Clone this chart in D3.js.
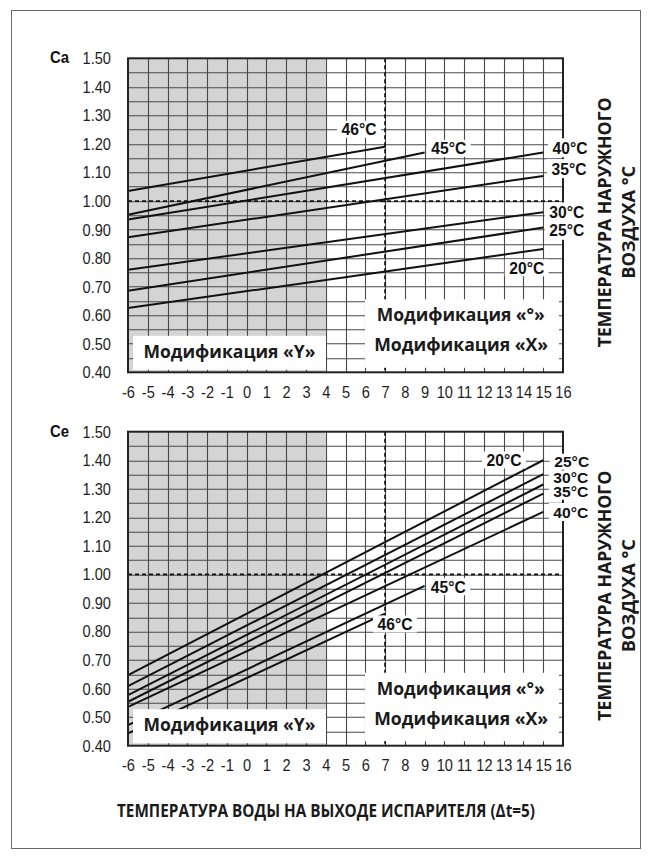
<!DOCTYPE html>
<html>
<head>
<meta charset="utf-8">
<script src="https://cdn.jsdelivr.net/npm/d3@7/dist/d3.min.js"></script>
<style>
  body { margin: 0; background: #fff; }
  svg { display: block; }
</style>
</head>
<body>
<svg id="chart" width="650" height="856"></svg>
<script>
// Outlet water temperature axis and coefficient axis
const waterTemps = d3.range(-6, 17);
const coefTicks = [1.5, 1.4, 1.3, 1.2, 1.1, 1.0, 0.9, 0.8, 0.7, 0.6, 0.5, 0.4];

// Ca: cooling capacity correction, one straight line per outdoor air temperature
const caTemps   = [46, 45, 40, 35, 30, 25, 20];
const caXEnd    = [7, 9, 15, 15, 15, 15, 15];
const caAtStart = [1.035, 0.952, 0.935, 0.873, 0.759, 0.686, 0.625];
const caAtEnd   = [1.19, 1.17, 1.17, 1.088, 0.961, 0.907, 0.832];

// Ce: power input correction
const ceTemps   = [20, 25, 30, 35, 40, 45, 46];
const ceXEnd    = [15, 15, 15, 15, 15, 9, 7];
const ceAtStart = [0.647, 0.609, 0.577, 0.554, 0.536, 0.472, 0.443];
const ceAtEnd   = [1.40, 1.351, 1.315, 1.283, 1.219, 0.96, 0.863];

const xStart = -6;
const shadedTo = 4;     // "Y" version range ends here
const refX = 7;         // nominal water temperature
const refY = 1.0;       // nominal coefficient

const svg = d3.select("#chart");
const SANS = "'Liberation Sans', Arial, sans-serif";
const GEO = "'Open Sans', 'DejaVu Sans', sans-serif";
const NARROW_X = 0.86;  // horizontal squeeze for the condensed lettering

// outer frame
svg.append("rect")
  .attr("x", 11.5).attr("y", 10.5).attr("width", 629).attr("height", 838)
  .attr("fill", "none").attr("stroke", "#6a6a6a").attr("stroke-width", 1);

const plotLeft = 128, plotWidth = 435, plotHeight = 314;

const x = d3.scaleLinear().domain([-6, 16]).range([0, plotWidth]);
const y = d3.scaleLinear().domain([0.4, 1.5]).range([plotHeight, 0]);

function panel(top, name, temps, xEnd, atStart, atEnd, labelPos) {
  const g = svg.append("g").attr("transform", `translate(${plotLeft},${top})`);

  // background: shaded "Y" range
  g.append("rect").attr("x", 0).attr("y", 0)
    .attr("width", plotWidth).attr("height", plotHeight).attr("fill", "#fff");
  g.append("rect").attr("x", x(-6)).attr("y", 0)
    .attr("width", x(shadedTo) - x(-6)).attr("height", plotHeight).attr("fill", "#d4d4d4");

  // grid
  const grid = g.append("g").attr("stroke", "#484848").attr("stroke-width", 1.1);
  grid.selectAll("line.v").data(waterTemps.slice(1, -1)).join("line")
    .attr("class", "v")
    .attr("x1", d => Math.round(x(d)) + 0.5).attr("x2", d => Math.round(x(d)) + 0.5)
    .attr("y1", 0).attr("y2", plotHeight);
  grid.selectAll("line.h").data(d3.range(1, 22).map(i => 0.4 + i * 0.05)).join("line")
    .attr("class", "h")
    .attr("y1", d => Math.round(y(d)) + 0.5).attr("y2", d => Math.round(y(d)) + 0.5)
    .attr("x1", 0).attr("x2", plotWidth);

  // reference lines at 7 °C and coefficient 1.00
  g.append("line")
    .attr("x1", 0).attr("x2", plotWidth).attr("y1", y(refY)).attr("y2", y(refY))
    .attr("stroke", "#111").attr("stroke-width", 1.7).attr("stroke-dasharray", "4,3");
  g.append("line")
    .attr("x1", x(refX)).attr("x2", x(refX)).attr("y1", 0).attr("y2", plotHeight)
    .attr("stroke", "#111").attr("stroke-width", 1.7).attr("stroke-dasharray", "4,3");

  // characteristic lines
  const line = d3.line().x(d => x(d[0])).y(d => y(d[1]));
  const series = temps.map((t, i) => ({ t, pts: [[xStart, atStart[i]], [xEnd[i], atEnd[i]]] }));
  g.append("g").selectAll("path").data(series).join("path")
    .attr("d", d => line(d.pts))
    .attr("fill", "none").attr("stroke", "#111").attr("stroke-width", 2);

  // version boxes
  g.append("rect").attr("x", 5).attr("y", plotHeight - 36.5)
    .attr("width", 193).attr("height", 34).attr("fill", "#fff");
  g.append("rect").attr("x", 237).attr("y", plotHeight - 73)
    .attr("width", 194).attr("height", 68.5).attr("fill", "#fff");

  const vtext = [
    { s: "Модификация «Y»", cx: 101.5, cy: plotHeight - 20.5, w: 172 },
    { s: "Модификация «°»", cx: 332.8, cy: plotHeight - 57, w: 168 },
    { s: "Модификация «X»", cx: 333.2, cy: plotHeight - 27, w: 174 }
  ];
  g.append("g").selectAll("text").data(vtext).join("text")
    .attr("x", d => d.cx).attr("y", d => d.cy).attr("dy", "0.36em")
    .attr("text-anchor", "middle")
    .attr("textLength", d => d.w).attr("lengthAdjust", "spacingAndGlyphs")
    .style("font-family", GEO).style("font-weight", 700).style("font-size", "17px")
    .attr("fill", "#1a1a1a")
    .text(d => d.s);

  // plot border
  g.append("rect").attr("x", 0).attr("y", 0).attr("width", plotWidth).attr("height", plotHeight)
    .attr("fill", "none").attr("stroke", "#222").attr("stroke-width", 2);

  // series labels on white patches
  const lab = g.append("g").selectAll("g").data(series).join("g")
    .attr("transform", (d, i) => `translate(${labelPos[i][0]},${labelPos[i][1]})`);
  lab.append("rect")
    .attr("x", -22).attr("y", (d, i) => -(labelPos[i][2] || 17) / 2)
    .attr("width", 44).attr("height", (d, i) => labelPos[i][2] || 17)
    .attr("fill", "#fff");
  lab.append("text").attr("text-anchor", "middle").attr("dy", "0.36em")
    .attr("transform", (d, i) => `scale(0.92,${labelPos[i][3] || 1})`)
    .style("font-family", SANS).style("font-weight", 700).style("font-size", "17px")
    .attr("fill", "#111")
    .text(d => `${d.t}°C`);

  // axes
  const ax = g.append("g").attr("transform", `translate(0,${plotHeight + 10.5})`)
    .call(d3.axisBottom(x).tickValues(waterTemps).tickSize(0).tickFormat(d => String(d)));
  ax.select(".domain").remove();
  ax.selectAll("text")
    .attr("transform", `scale(${NARROW_X},1)`)
    .style("font-family", SANS).style("font-size", "17px").attr("fill", "#1e1e1e");

  const ay = g.append("g").attr("transform", "translate(-17,0)")
    .call(d3.axisLeft(y).tickValues(coefTicks).tickSize(0).tickPadding(0).tickFormat(d3.format(".2f")));
  ay.select(".domain").remove();
  ay.selectAll("text")
    .attr("transform", `scale(${NARROW_X},1)`)
    .style("font-family", SANS).style("font-size", "17px").attr("fill", "#1e1e1e");

  g.append("text").attr("x", -78).attr("y", -1).attr("dy", "0.36em")
    .attr("textLength", 19).attr("lengthAdjust", "spacingAndGlyphs")
    .style("font-family", SANS).style("font-weight", 700).style("font-size", "17px")
    .attr("fill", "#111").text(name);

  // outdoor air temperature title, rotated
  const rt = [
    { s: "ТЕМПЕРАТУРА НАРУЖНОГО", dx: 477, len: 250 },
    { s: "ВОЗДУХА °С", dx: 500.5, len: 113 }
  ];
  g.append("g").selectAll("text").data(rt).join("text")
    .attr("transform", d => `translate(${d.dx},${plotHeight / 2 + 7}) rotate(-90)`)
    .attr("text-anchor", "middle").attr("dy", "0.36em")
    .attr("textLength", d => d.len).attr("lengthAdjust", "spacingAndGlyphs")
    .style("font-family", GEO).style("font-weight", 700).style("font-size", "18px")
    .attr("fill", "#1a1a1a")
    .text(d => d.s);
}

// label layout per series: [x, y, patch height, vertical squeeze]
panel(58.3, "Ca", caTemps, caXEnd, caAtStart, caAtEnd,
  [[231, 71], [320.7, 90], [442, 89.5, 19], [441, 110.3, 19], [438.7, 153.7, 19], [438.7, 172, 19], [398.7, 209.5]]);

panel(431.7, "Ce", ceTemps, ceXEnd, ceAtStart, ceAtEnd,
  [[376, 28.3], [443.7, 30, 16, 0.9], [442.8, 46.3, 15, 0.82], [442.8, 60.5, 15, 0.82], [442.8, 80.3, 18, 0.9], [320.3, 155], [267, 192.3]]);

// common x-axis title
svg.append("text")
  .attr("x", 326).attr("y", 811).attr("dy", "0.36em")
  .attr("text-anchor", "middle")
  .attr("textLength", 418).attr("lengthAdjust", "spacingAndGlyphs")
  .style("font-family", GEO).style("font-weight", 700).style("font-size", "17px")
  .attr("fill", "#1a1a1a")
  .text("ТЕМПЕРАТУРА ВОДЫ НА ВЫХОДЕ ИСПАРИТЕЛЯ (Δt=5)");
</script>
</body>
</html>
